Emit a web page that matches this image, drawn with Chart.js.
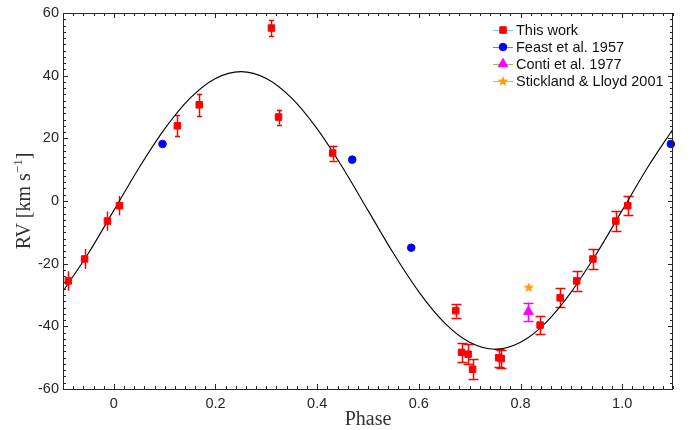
<!DOCTYPE html>
<html>
<head>
<meta charset="utf-8">
<title>RV curve</title>
<script src="https://cdn.jsdelivr.net/npm/chart.js@4.4.1/dist/chart.umd.min.js"></script>
<style>
  html, body { margin: 0; padding: 0; background: #fff; }
  #wrap { position: relative; width: 692px; height: 430px; }
</style>
</head>
<body>
<div id="wrap"><canvas id="rvChart"></canvas></div>
<script>
// phase-folded radial velocities (km/s)
const workPhase = [-0.0895, -0.0575, -0.0125, 0.011, 0.125, 0.168, 0.310, 0.324, 0.4305,
  0.6726, 0.684, 0.697, 0.7057, 0.757, 0.762, 0.8386, 0.878, 0.9105, 0.9425, 0.9875, 1.011];
const workRv = [-25.5, -18.5, -6.4, -1.5, 24.0, 30.7, 55.2, 26.8, 15.3,
  -35.0, -48.3, -48.9, -53.7, -50.0, -50.3, -39.6, -30.9, -25.5, -18.5, -6.4, -1.5];
const workErr = [3.1, 3.2, 3.1, 3.1, 3.4, 3.6, 2.5, 2.4, 2.4,
  2.2, 3.0, 3.2, 3.2, 2.9, 2.9, 2.9, 3.0, 3.1, 3.2, 3.1, 3.1];

const feastPhase = [0.0958, 0.469, 0.585, 1.0958];
const feastRv = [18.2, 13.2, -14.9, 18.2];

const contiPhase = [0.8156];
const contiRv = [-35.3];
const contiErr = [2.9];

const sticklandPhase = [0.8163];
const sticklandRv = [-27.5];

// orbital solution sampled every 0.05 in phase
const modelPhase = [-0.1, -0.05, 0, 0.05, 0.1, 0.15, 0.2, 0.25, 0.3, 0.35, 0.4, 0.45, 0.5,
  0.55, 0.6, 0.65, 0.7, 0.75, 0.8, 0.85, 0.9, 0.95, 1.0, 1.05, 1.1];
const modelRv = [-28.8, -16.7, -3.0, 10.7, 23.0, 32.8, 39.1, 41.3, 39.1, 32.8, 23.0, 10.7, -3.0,
  -16.7, -29.0, -38.8, -45.1, -47.3, -45.1, -38.8, -29.0, -16.7, -3.0, 10.7, 23.0];

const xTicks = [0, 0.2, 0.4, 0.6, 0.8, 1];
const yTicks = [-60, -40, -20, 0, 20, 40, 60];

// error bar cap widths (px) for "This work"
const workCaps = [0, 0, 0, 0, 5, 5, 5, 5, 8, 10, 10, 10, 10, 10, 10, 10, 10, 10, 10, 10, 10];

const AXIS = '#262626';
const SANS = "'Liberation Sans', Arial, Helvetica, sans-serif";
const SERIF = "'Liberation Serif', 'Times New Roman', serif";

const pts = (xs, ys) => xs.map((x, i) => ({ x: x, y: ys[i] }));

function makeStar(r, color) {
  const c = document.createElement('canvas');
  const s = Math.ceil(r * 2) + 2;
  c.width = c.height = s;
  const g = c.getContext('2d');
  g.translate(s / 2, s / 2 + 0.5);
  g.beginPath();
  for (let i = 0; i < 10; i++) {
    const rr = i % 2 ? r * 0.42 : r;
    const a = -Math.PI / 2 + i * Math.PI / 5;
    g.lineTo(rr * Math.cos(a), rr * Math.sin(a));
  }
  g.closePath();
  g.fillStyle = color;
  g.fill();
  return c;
}
const starImg = makeStar(5.6, '#ff9d00');

const series = [
  { label: 'This work', line: '#7cc8ee', color: '#ff0000', style: 'rect', radius: 4.6 },
  { label: 'Feast et al. 1957', line: '#9c6bd0', color: '#0000ff', style: 'circle', radius: 3.8 },
  { label: 'Conti et al. 1977', line: '#8cc45a', color: '#ff00ff', style: 'triangle', radius: 5.6 },
  { label: 'Stickland & Lloyd 2001', line: '#7cc8ee', color: '#ff9d00', style: starImg, radius: 5.6 }
];

// vertical error bars, drawn under the markers
const errorBars = {
  id: 'errorBars',
  beforeDatasetsDraw(chart) {
    const { ctx, scales: { y } } = chart;
    chart.data.datasets.forEach((ds, i) => {
      if (!ds.errors) return;
      const meta = chart.getDatasetMeta(i);
      ctx.save();
      ctx.strokeStyle = ds.errorColor || '#ff0000';
      ctx.lineWidth = 1.5;
      meta.data.forEach((pt, j) => {
        const d = ds.data[j];
        const top = y.getPixelForValue(d.y + ds.errors[j]);
        const bot = y.getPixelForValue(d.y - ds.errors[j]);
        const cx = Math.round(pt.x) + 0.5;
        const w = ds.caps[j] / 2;
        ctx.beginPath();
        ctx.moveTo(cx, top);
        ctx.lineTo(cx, bot);
        if (w) {
          ctx.moveTo(cx - w, Math.round(top) + 0.5);
          ctx.lineTo(cx + w, Math.round(top) + 0.5);
          ctx.moveTo(cx - w, Math.round(bot) + 0.5);
          ctx.lineTo(cx + w, Math.round(bot) + 0.5);
        }
        ctx.stroke();
      });
      ctx.restore();
    });
  }
};

// box, inward major/minor ticks, y title and legend
const frame = {
  id: 'frame',
  afterDraw(chart) {
    const { ctx, chartArea: a, scales: { x, y } } = chart;
    ctx.save();
    ctx.strokeStyle = AXIS;
    ctx.lineWidth = 1;
    ctx.beginPath();
    for (let i = 0; i <= 60; i++) {
      const v = -0.1 + i * 0.02;
      const major = xTicks.some(t => Math.abs(t - v) < 1e-6);
      const len = major ? 5 : 3;
      const px = Math.round(x.getPixelForValue(v)) + 0.5;
      ctx.moveTo(px, a.bottom); ctx.lineTo(px, a.bottom - len);
      ctx.moveTo(px, a.top); ctx.lineTo(px, a.top + len);
    }
    for (let v = -60; v <= 60; v += 2) {
      const len = v % 20 === 0 ? 5 : 3;
      const py = Math.round(y.getPixelForValue(v)) + 0.5;
      ctx.moveTo(a.left, py); ctx.lineTo(a.left + len, py);
      ctx.moveTo(a.right, py); ctx.lineTo(a.right - len, py);
    }
    ctx.stroke();
    ctx.strokeRect(a.left + 0.5, a.top + 0.5, a.right - a.left - 1, a.bottom - a.top);

    // y axis title with superscript
    ctx.fillStyle = '#333';
    ctx.translate(29.5, (a.top + a.bottom) / 2);
    ctx.rotate(-Math.PI / 2);
    ctx.textBaseline = 'alphabetic';
    ctx.textAlign = 'left';
    const big = '20px ' + SERIF, small = '13px ' + SERIF;
    const p1 = 'RV [km s', sup = '\u22121', p2 = ']';
    ctx.font = big; const w1 = ctx.measureText(p1).width, w3 = ctx.measureText(p2).width;
    ctx.font = small; const w2 = ctx.measureText(sup).width;
    let tx = -(w1 + w2 + w3) / 2;
    ctx.font = big; ctx.fillText(p1, tx, 0); tx += w1;
    ctx.font = small; ctx.fillText(sup, tx, -8); tx += w2;
    ctx.font = big; ctx.fillText(p2, tx, 0);
    ctx.setTransform(1, 0, 0, 1, 0, 0);

    // legend
    ctx.font = '14.5px ' + SANS;
    ctx.textBaseline = 'middle';
    series.forEach((s, i) => {
      const ly = 30 + i * 17;
      ctx.strokeStyle = s.line;
      ctx.beginPath();
      ctx.moveTo(493, ly + 0.5); ctx.lineTo(513, ly + 0.5);
      ctx.stroke();
      ctx.fillStyle = s.color;
      ctx.strokeStyle = s.color;
      Chart.helpers.drawPoint(ctx, { pointStyle: s.style, radius: s.radius, rotation: 0, borderWidth: 1 }, 503, ly);
      ctx.fillStyle = '#111';
      ctx.fillText(s.label, 516, ly + 1);
    });
    ctx.restore();
  }
};

const tickFont = { family: SANS, size: 14.5 };

new Chart(document.getElementById('rvChart'), {
  type: 'scatter',
  data: {
    datasets: [
      {
        label: series[0].label,
        data: pts(workPhase, workRv),
        errors: workErr, caps: workCaps, errorColor: '#ff0000',
        pointStyle: 'rect', pointRadius: series[0].radius, borderWidth: 1,
        backgroundColor: '#ff0000', borderColor: '#ff0000', clip: false
      },
      {
        label: series[1].label,
        data: pts(feastPhase, feastRv),
        pointStyle: 'circle', pointRadius: series[1].radius, borderWidth: 1,
        backgroundColor: '#0000ff', borderColor: '#0000ff', clip: false
      },
      {
        label: series[2].label,
        data: pts(contiPhase, contiRv),
        errors: contiErr, caps: [10], errorColor: '#ff00ff',
        pointStyle: 'triangle', pointRadius: series[2].radius, borderWidth: 1,
        backgroundColor: '#ff00ff', borderColor: '#ff00ff', clip: false
      },
      {
        label: series[3].label,
        data: pts(sticklandPhase, sticklandRv),
        pointStyle: starImg, pointRadius: series[3].radius,
        backgroundColor: '#ff9d00', borderColor: '#ff9d00', clip: false
      },
      {
        label: 'Model',
        type: 'line',
        data: pts(modelPhase, modelRv),
        showLine: true, borderColor: '#000', borderWidth: 1.1,
        pointRadius: 0, cubicInterpolationMode: 'monotone', fill: false
      }
    ]
  },
  options: {
    responsive: true,
    maintainAspectRatio: false,
    animation: false,
    events: [],
    layout: { padding: { top: 13, right: 19, left: 0, bottom: 0 } },
    plugins: { legend: { display: false }, tooltip: { enabled: false } },
    scales: {
      x: {
        type: 'linear', min: -0.1, max: 1.1,
        afterBuildTicks: s => { s.ticks = xTicks.map(v => ({ value: v })); },
        afterFit: s => { s.height = 41; },
        grid: { display: false, drawTicks: false },
        border: { display: false },
        ticks: { font: tickFont, color: AXIS, padding: 6, maxRotation: 0, autoSkip: false },
        title: {
          display: true, text: 'Phase', color: '#333',
          font: { family: SERIF, size: 20, lineHeight: 1 },
          padding: { top: 0, bottom: 0 }
        }
      },
      y: {
        type: 'linear', min: -60, max: 60,
        afterBuildTicks: s => { s.ticks = yTicks.map(v => ({ value: v })); },
        afterFit: s => { s.width = 63; },
        grid: { display: false, drawTicks: false },
        border: { display: false },
        ticks: { font: tickFont, color: AXIS, padding: 4, autoSkip: false }
      }
    }
  },
  plugins: [errorBars, frame]
});
</script>
</body>
</html>
